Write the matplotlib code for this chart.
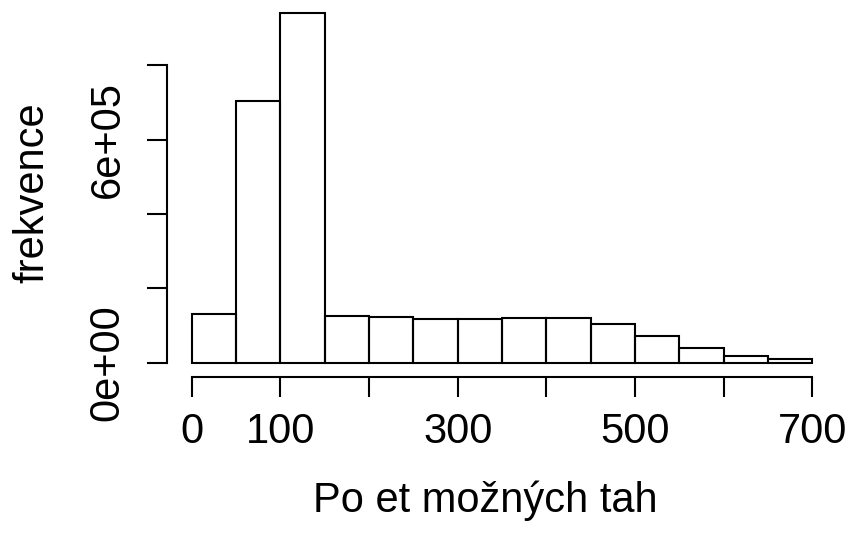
import matplotlib
matplotlib.use("Agg")
import matplotlib.pyplot as plt
import numpy as np

plt.rcParams['font.family'] = ['Liberation Sans', 'DejaVu Sans']

# histogram: bin edges (width 50) and counts
edges = np.arange(0, 701, 50)
counts = [129800, 704800, 941600, 125200, 121700, 118400, 118000,
          120600, 120600, 103600, 70500, 39800, 16700, 8600]

x_ticks = [0, 100, 200, 300, 400, 500, 600, 700]
x_labels = ['0', '100', '', '300', '', '500', '', '700']
y_ticks = [0, 2e5, 4e5, 6e5, 8e5]
y_labels = ['0e+00', '', '', '6e+05', '']

W, H = 851, 533
fig = plt.figure(figsize=(W / 100, H / 100), dpi=100)
ax = fig.add_axes([167 / W, 1 - 376.5 / H, 670 / W, 377.8 / H])

ax.bar(edges[:-1], counts, width=50, align='edge', fill=False,
       edgecolor='black', linewidth=1.5)

ymax = max(counts)
ax.set_xlim(-28, 728)
ax.set_ylim(-0.04 * ymax, 1.04 * ymax)

for s in ['top', 'right']:
    ax.spines[s].set_visible(False)
ax.spines['left'].set_bounds(0, 8e5)
ax.spines['bottom'].set_bounds(0, 700)
for s in ['left', 'bottom']:
    ax.spines[s].set_linewidth(1.5)

ax.set_xticks(x_ticks)
ax.set_xticklabels(x_labels, fontsize=30)
ax.set_yticks(y_ticks)
ax.set_yticklabels(y_labels, fontsize=30)
ax.tick_params(axis='both', direction='out', length=14.4, width=1.5)
ax.tick_params(axis='x', pad=11)
ax.tick_params(axis='y', pad=20.5)
for lab in ax.get_yticklabels():
    lab.set_rotation(90)
    lab.set_rotation_mode('anchor')
    lab.set_ha('center')
    lab.set_va('baseline')

fig.text(485 / W, 1 - 512 / H, 'Po et možných tah', fontsize=30,
         ha='center', va='baseline')
fig.text(43 / W, 1 - 192.5 / H, 'frekvence', fontsize=30, rotation=90,
         rotation_mode='anchor', ha='center', va='baseline')

fig.savefig('out.png', dpi=100)
